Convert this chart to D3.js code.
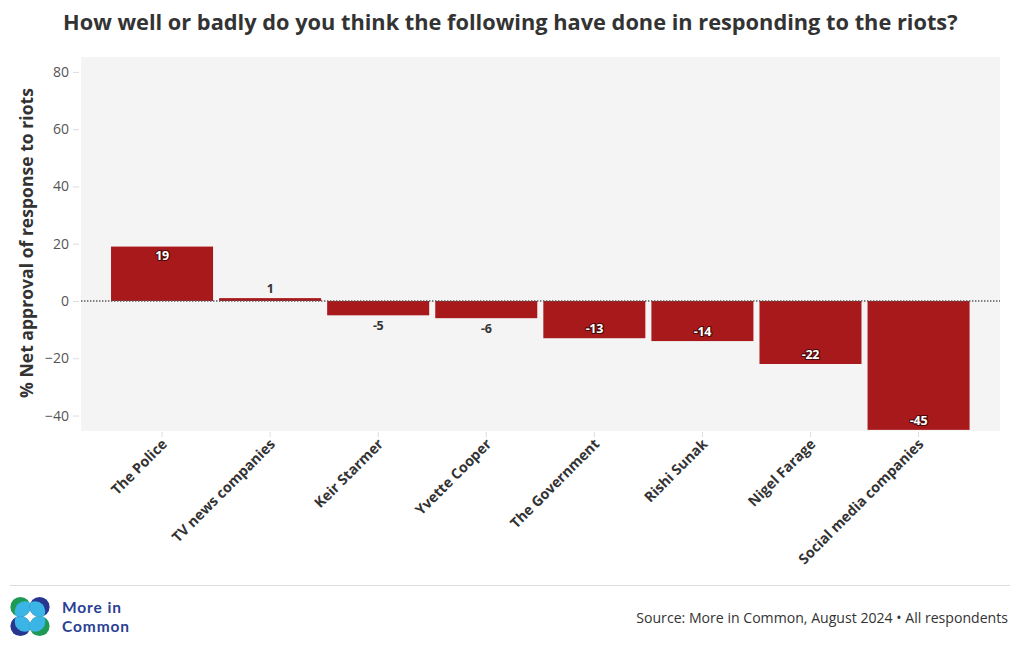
<!DOCTYPE html>
<html>
<head>
<meta charset="utf-8">
<script src="https://cdn.jsdelivr.net/npm/d3@7"></script>
<style>
  html, body { margin: 0; padding: 0; background: #ffffff; }
  svg { display: block; }
  text { font-family: "Open Sans", "Noto Sans", sans-serif; }
</style>
</head>
<body>
<svg id="chart" width="1020" height="650"></svg>
<script>
const categories = ["The Police", "TV news companies", "Keir Starmer", "Yvette Cooper",
  "The Government", "Rishi Sunak", "Nigel Farage", "Social media companies"];
const values = [19, 1, -5, -6, -13, -14, -22, -45];
const yTicks = [-40, -20, 0, 20, 40, 60, 80];
const titleText = "How well or badly do you think the following have done in responding to the riots?";
const yAxisTitle = "% Net approval of response to riots";
const sourceText = "Source: More in Common, August 2024 \u2022 All respondents";

const svg = d3.select("#chart");
const panel = { left: 81, right: 1000, top: 57, bottom: 431 };
const barColor = "#A8191B";

function fitWidth(sel, base, target) {
  const w = sel.node().getComputedTextLength();
  if (w > 0) sel.attr("font-size", base * target / w);
}

// Title
const title = svg.append("text")
  .attr("x", 63).attr("y", 30)
  .attr("font-size", 20).attr("font-weight", 700)
  .attr("fill", "#333333")
  .text(titleText);
fitWidth(title, 20, 895);

// Panel background
svg.append("rect")
  .attr("x", panel.left).attr("y", panel.top)
  .attr("width", panel.right - panel.left).attr("height", panel.bottom - panel.top)
  .attr("fill", "#F4F4F4");

const y = d3.scaleLinear().domain([-45.4, 85.2]).range([panel.bottom, panel.top]);
const x = d3.scaleBand().domain(categories).range([108, 972.6])
  .paddingInner(0.056).paddingOuter(0.028);

// Y axis
const yAxis = svg.append("g")
  .attr("transform", `translate(${panel.left - 2},0)`)
  .call(d3.axisLeft(y).tickValues(yTicks).tickSize(6).tickPadding(4));
yAxis.select(".domain").remove();
yAxis.selectAll(".tick line").attr("stroke", "#dddddd");
yAxis.selectAll(".tick text")
  .attr("font-size", 14).attr("fill", "#555555")
  .style("font-family", "'Open Sans', 'Noto Sans', sans-serif");

// X axis
const xAxis = svg.append("g")
  .attr("transform", `translate(0,${panel.bottom + 1})`)
  .call(d3.axisBottom(x).tickSize(5).tickPadding(3));
xAxis.select(".domain").remove();
xAxis.selectAll(".tick line").attr("stroke", "#dddddd");
const xt = xAxis.selectAll(".tick text")
  .attr("font-size", 13).attr("font-weight", 700).attr("fill", "#333333")
  .style("font-family", "'Open Sans', 'Noto Sans', sans-serif")
  .attr("text-anchor", "end")
  .attr("dy", null)
  .attr("transform", "translate(6,13) rotate(-45)")
  .attr("y", 0).attr("x", 0);
(function () {
  const last = xt.filter(d => d === "Social media companies");
  const w = last.node().getComputedTextLength();
  if (w > 0) xt.attr("font-size", 13 * 170 / w);
})();

// Y axis title
const yt = svg.append("text")
  .attr("transform", `translate(33,243) rotate(-90)`)
  .attr("text-anchor", "middle")
  .attr("font-size", 18).attr("font-weight", 700).attr("fill", "#333333")
  .text(yAxisTitle);
fitWidth(yt, 18, 310);

// Bars
const data = categories.map((c, i) => ({ c, v: values[i] }));
svg.append("g").selectAll("rect").data(data).join("rect")
  .attr("x", d => x(d.c))
  .attr("width", x.bandwidth())
  .attr("y", d => y(Math.max(0, d.v)))
  .attr("height", d => Math.abs(y(d.v) - y(0)))
  .attr("fill", barColor);

// Zero line
svg.append("line")
  .attr("x1", panel.left).attr("x2", panel.right)
  .attr("y1", y(0)).attr("y2", y(0))
  .attr("stroke", "#555555").attr("stroke-width", 1.4)
  .attr("stroke-dasharray", "1.4,1.6");

// Bar labels
const lab = svg.append("g");
data.forEach(d => {
  const inside = Math.abs(d.v) >= 10;
  let ly;
  if (inside) ly = d.v > 0 ? y(d.v) + 13.5 : y(d.v) - 5;
  else ly = d.v > 0 ? y(d.v) - 5 : y(d.v) + 14.5;
  const t = lab.append("text")
    .attr("x", x(d.c) + x.bandwidth() / 2)
    .attr("y", ly)
    .attr("text-anchor", "middle")
    .attr("font-size", 12.5).attr("font-weight", 700)
    .attr("letter-spacing", -0.3)
    .text(d.v);
  if (inside) {
    t.attr("fill", "#ffffff")
      .attr("stroke", "#4a0808").attr("stroke-width", 2.2)
      .attr("stroke-linejoin", "round")
      .style("paint-order", "stroke");
  } else {
    t.attr("fill", "#333333");
  }
});

// Footer line
svg.append("line")
  .attr("x1", 10).attr("x2", 1010).attr("y1", 585.5).attr("y2", 585.5)
  .attr("stroke", "#dddddd").attr("stroke-width", 1);

// Source
const src = svg.append("text")
  .attr("x", 1008).attr("y", 623)
  .attr("text-anchor", "end")
  .attr("font-size", 14).attr("fill", "#333333")
  .text(sourceText);
fitWidth(src, 14, 372);

// Logo
const defs = svg.append("defs");
const logo = svg.append("g").attr("transform", "translate(30,616.5)");
const circ = [
  { dx: -9.6, dy: -9.6, col: "#1E9A54" },
  { dx: 9.6, dy: -9.6, col: "#27378F" },
  { dx: -9.6, dy: 9.6, col: "#27378F" },
  { dx: 9.6, dy: 9.6, col: "#1E9A54" }
];
circ.forEach((c, i) => {
  defs.append("clipPath").attr("id", "lc" + i)
    .append("circle").attr("cx", c.dx).attr("cy", c.dy).attr("r", 10);
  logo.append("circle").attr("cx", c.dx).attr("cy", c.dy).attr("r", 10).attr("fill", c.col);
  logo.append("circle")
    .attr("cx", c.dx * 0.55).attr("cy", c.dy * 0.55).attr("r", 10)
    .attr("fill", "#3BB5E6")
    .attr("clip-path", `url(#lc${i})`);
});
svg.append("text").attr("x", 62).attr("y", 613)
  .attr("font-size", 15.5).attr("font-weight", 700).attr("fill", "#2B3F94")
  .attr("letter-spacing", 0.9)
  .style("font-family", "Lato, sans-serif")
  .text("More in");
svg.append("text").attr("x", 62).attr("y", 632)
  .attr("font-size", 15.5).attr("font-weight", 700).attr("fill", "#2B3F94")
  .attr("letter-spacing", 0.9)
  .style("font-family", "Lato, sans-serif")
  .text("Common");
</script>
</body>
</html>
